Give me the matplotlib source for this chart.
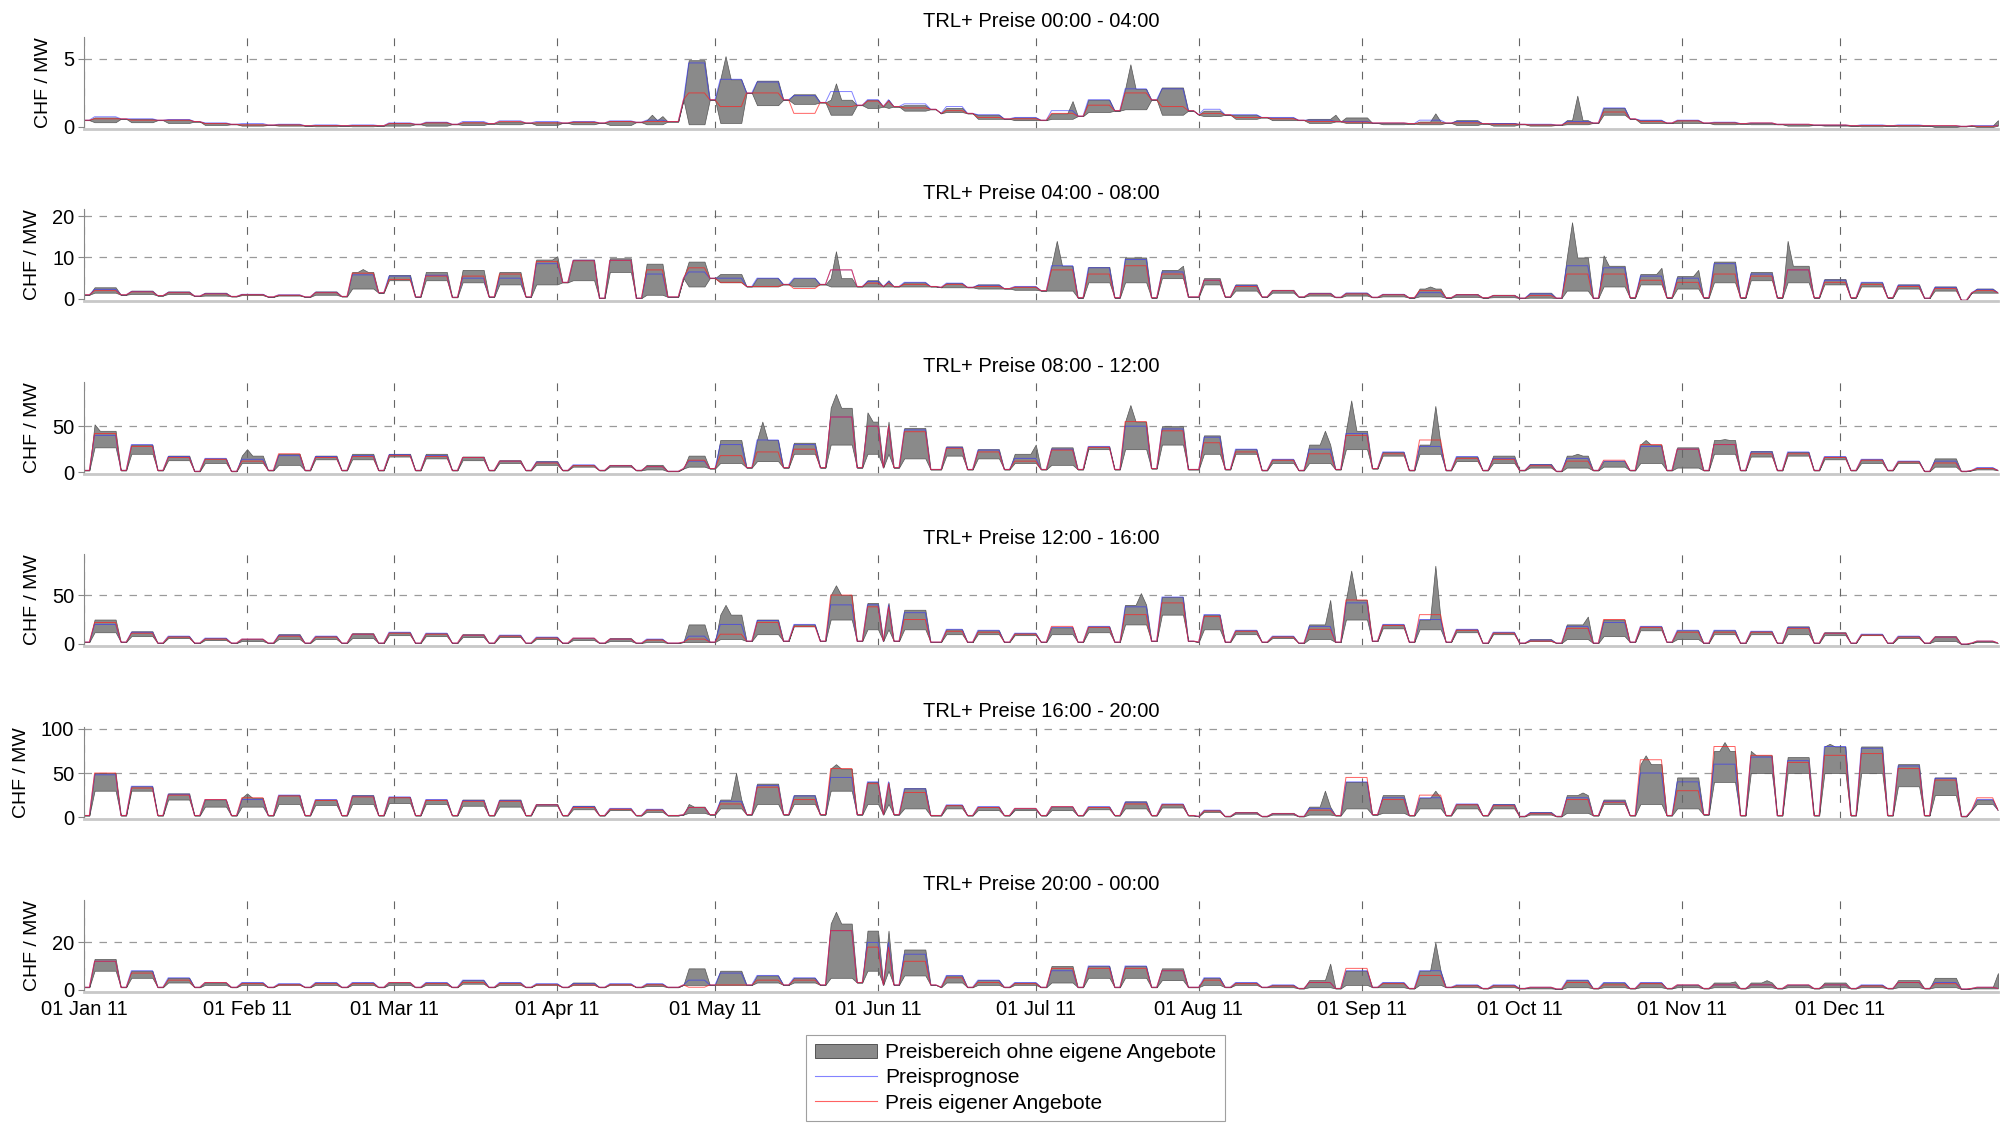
import numpy as np
import pandas as pd
import matplotlib
matplotlib.use('Agg')
import matplotlib.pyplot as plt
import matplotlib.dates as mdates
from matplotlib.patches import Patch
from matplotlib.lines import Line2D

plt.rcParams['font.family'] = ['Liberation Sans', 'DejaVu Sans']

days = pd.date_range('2011-01-01', '2011-12-31', freq='D')
holidays = ['2011-04-22', '2011-04-25', '2011-06-02', '2011-06-13', '2011-08-01', '2011-12-26']

# weekly readings (index 0 = Jan 1-2, 1 = week of Jan 3, ... 52 = week of Dec 26)
# hi/lo = price range Mon-Fri, fc = forecast, own = own bids, we = weekend level
# spk = single day peaks of the price range

# 00:00 - 04:00
hi_00 = [.5, .7, .6, .55, .3, .2, .2, .15, .15, .3,
         .35, .35, .4, .35, .4, .45, .5, 4.9, 3.5, 3.4,
         2.4, 2.0, 2.0, 1.6, 1.4, .9, .7, 1.0, 2.0, 2.8,
         2.9, 1.2, .9, .7, .6, .7, .3, .4, .5, .3,
         .2, .5, 1.4, .5, .5, .35, .3, .2, .15, .15,
         .15, .1, .1]
lo_00 = [.3, .35, .35, .3, .15, .1, .1, .05, .05, .1,
         .1, .15, .2, .15, .2, .15, .2, .2, .3, 1.6,
         1.7, .9, 1.4, 1.2, 1.1, .6, .5, .6, 1.1, 1.3,
         .9, .8, .6, .5, .3, .3, .2, .2, .15, .1,
         .1, .2, .9, .3, .3, .2, .2, .1, .1, .05,
         .05, 0, 0]
fc_00 = [.5, .75, .6, .55, .3, .25, .2, .15, .15, .3,
         .35, .4, .45, .4, .4, .45, .5, 4.7, 3.5, 3.3,
         2.3, 2.6, 2.0, 1.7, 1.5, .9, .7, 1.2, 2.0, 2.8,
         2.8, 1.3, .9, .7, .5, .4, .3, .5, .4, .25,
         .2, .4, 1.4, .5, .5, .35, .3, .2, .15, .15,
         .15, .1, .1]
own_00 = [.5, .6, .5, .5, .25, .15, .15, .1, .1, .25,
          .3, .3, .4, .3, .35, .4, .4, 2.5, 1.5, 2.5,
          1.0, 1.5, 1.9, 1.4, 1.2, .7, .6, 1.0, 1.6, 2.5,
          1.5, 1.0, .7, .6, .4, .35, .3, .3, .3, .2,
          .15, .3, 1.1, .4, .45, .3, .3, .2, .15, .1,
          .1, .1, .05]
we_00 = [.5, .6, .5, .4, .2, .15, .1, .1, .1, .2,
         .2, .25, .3, .3, .3, .35, .4, 2.0, 2.5, 2.0,
         1.8, 1.6, 1.5, 1.3, 1.0, .6, .5, .8, 1.2, 2.0,
         1.2, .9, .7, .5, .4, .3, .25, .3, .25, .2,
         .15, .3, .6, .3, .3, .25, .2, .15, .1, .1,
         .1, .05, .1]
spk_00 = {'2011-04-19': .9, '2011-04-21': .8, '2011-05-03': 5.2, '2011-05-24': 3.2,
          '2011-07-08': 1.9, '2011-07-19': 4.6, '2011-08-27': .9, '2011-09-15': 1.0,
          '2011-10-12': 2.3, '2011-12-31': .5}

# 04:00 - 08:00
hi_04 = [1.0, 2.8, 2.0, 1.8, 1.5, 1.2, 1.0, 1.8, 6.5, 5.8,
         6.5, 7.0, 6.5, 9.5, 9.5, 9.8, 8.5, 9.0, 6.0, 5.0,
         5.0, 5.0, 4.5, 4.0, 3.8, 3.5, 3.0, 8.0, 7.7, 10.0,
         7.0, 5.0, 3.5, 2.2, 1.5, 1.5, 1.2, 2.5, 1.2, 1.0,
         1.5, 10.0, 8.0, 6.0, 5.5, 9.0, 6.5, 8.0, 4.8, 4.0,
         3.5, 3.0, 2.5]
lo_04 = [1.0, 1.5, 1.2, 1.2, .8, .9, .8, 1.0, 2.5, 4.5,
         4.5, 4.0, 3.5, 3.5, 4.5, 6.5, 1.0, 3.0, 4.0, 3.0,
         3.0, 3.0, 3.0, 3.0, 2.8, 2.5, 2.2, 2.0, 4.0, 4.0,
         5.0, 3.5, 2.0, 1.5, .8, .8, .6, .6, .5, .4,
         .3, 2.0, 3.0, 3.5, 2.5, 4.0, 4.5, 4.0, 3.5, 3.0,
         2.5, 2.0, 1.5]
fc_04 = [1.0, 2.3, 1.8, 1.6, 1.3, 1.1, 1.0, 1.6, 5.8, 5.5,
         5.7, 5.0, 5.0, 8.5, 9.3, 9.3, 6.0, 6.5, 5.0, 5.0,
         5.0, 7.0, 4.2, 4.0, 3.8, 3.3, 3.0, 8.0, 7.5, 9.5,
         6.5, 4.5, 3.2, 2.0, 1.3, 1.4, 1.1, 1.5, 1.0, .8,
         1.2, 8.0, 7.5, 5.5, 5.0, 8.5, 6.0, 7.0, 4.5, 4.0,
         3.3, 2.8, 2.3]
own_04 = [1.0, 2.0, 1.7, 1.5, 1.2, 1.0, .9, 1.5, 6.2, 4.7,
          5.5, 5.5, 6.0, 9.0, 9.2, 9.3, 7.0, 7.5, 4.0, 3.0,
          2.5, 7.0, 3.8, 3.5, 3.5, 3.0, 2.8, 7.0, 6.0, 8.0,
          6.0, 4.5, 3.0, 2.0, 1.2, 1.2, 1.0, 2.0, 1.0, .8,
          .8, 6.0, 6.0, 4.5, 4.0, 6.0, 5.5, 7.0, 4.0, 3.5,
          3.0, 2.5, 2.0]
we_04 = [1.0, 1.0, .8, .7, .6, .5, .5, .6, 1.5, .5,
         .4, .5, .5, 4.0, .2, .2, .5, 5.0, 3.0, 3.5,
         3.5, 3.0, 3.0, 3.0, 2.8, 2.5, 2.0, .3, .3, .3,
         .5, .5, .5, .5, .4, .4, .3, .3, .3, .2,
         .2, .2, .3, .3, .3, .3, .3, .3, .3, .3,
         .2, -.3, 1.5]
spk_04 = {'2011-02-23': 7.2, '2011-04-01': 10.3, '2011-05-24': 11.5, '2011-07-05': 14.0,
          '2011-07-29': 8.0, '2011-09-14': 3.0, '2011-10-11': 18.5, '2011-10-17': 10.5,
          '2011-10-28': 7.5, '2011-11-04': 7.0, '2011-11-21': 14.0}

# 08:00 - 12:00
hi_08 = [2, 45, 30, 18, 15, 18, 20, 18, 20, 20,
         20, 17, 13, 12, 8, 8, 8, 18, 35, 35,
         32, 70, 55, 48, 28, 25, 20, 27, 28, 55,
         50, 40, 25, 14, 30, 45, 22, 30, 17, 18,
         9, 18, 12, 30, 27, 35, 23, 22, 17, 14,
         12, 15, 5]
lo_08 = [2, 27, 20, 13, 10, 10, 8, 14, 14, 17,
         15, 13, 10, 8, 6, 6, 3, 6, 10, 12,
         20, 30, 20, 15, 18, 15, 10, 8, 25, 25,
         30, 20, 20, 10, 10, 25, 18, 20, 12, 10,
         5, 5, 6, 10, 5, 20, 17, 18, 14, 10,
         10, 6, 3]
fc_08 = [2, 40, 30, 17, 15, 14, 18, 17, 18, 19,
         18, 16, 12, 11, 8, 7, 6, 12, 30, 35,
         30, 60, 50, 46, 27, 24, 15, 25, 28, 50,
         47, 38, 25, 14, 25, 42, 22, 28, 17, 15,
         8, 15, 12, 28, 25, 30, 22, 22, 17, 14,
         12, 12, 5]
own_08 = [2, 42, 28, 16, 14, 12, 20, 16, 17, 18,
          17, 16, 12, 10, 7, 7, 6, 13, 18, 22,
          25, 60, 50, 44, 26, 22, 12, 24, 27, 55,
          45, 32, 22, 13, 20, 40, 20, 35, 15, 14,
          7, 12, 13, 30, 25, 30, 20, 20, 16, 13,
          11, 10, 4]
we_08 = [2, 2, 2, 1, 1, 2, 2, 2, 2, 2,
         2, 2, 2, 2, 2, 2, 1, 4, 5, 5,
         5, 5, 5, 3, 3, 3, 3, 3, 3, 4,
         3, 3, 2, 2, 3, 4, 2, 2, 2, 2,
         1, 2, 2, 2, 2, 2, 2, 2, 2, 2,
         1, 1, 2]
spk_08 = {'2011-01-03': 52, '2011-02-01': 25, '2011-05-10': 55, '2011-05-24': 85,
          '2011-05-30': 65, '2011-07-01': 30, '2011-07-19': 73, '2011-08-25': 45,
          '2011-08-30': 78, '2011-09-15': 72, '2011-10-12': 20, '2011-10-25': 35,
          '2011-11-09': 36}

# 12:00 - 16:00
hi_12 = [2, 25, 13, 8, 6, 5, 10, 8, 11, 12,
         11, 10, 9, 7, 6, 6, 5, 20, 30, 25,
         20, 50, 42, 35, 15, 14, 11, 17, 18, 40,
         48, 30, 14, 8, 20, 45, 20, 25, 15, 12,
         5, 20, 25, 18, 14, 14, 13, 18, 12, 10,
         8, 8, 3]
lo_12 = [2, 12, 8, 6, 4, 3, 5, 5, 6, 9,
         8, 7, 7, 5, 4, 3, 2, 2, 5, 10,
         18, 25, 15, 15, 10, 10, 9, 10, 12, 20,
         30, 15, 10, 6, 5, 25, 16, 15, 12, 10,
         3, 5, 8, 14, 5, 10, 10, 10, 9, 9,
         6, 3, 2]
fc_12 = [2, 20, 12, 8, 6, 5, 9, 8, 10, 12,
         11, 9, 9, 7, 6, 5, 5, 8, 20, 24,
         20, 40, 40, 32, 15, 14, 11, 17, 18, 38,
         48, 30, 14, 8, 18, 42, 20, 25, 15, 12,
         4, 18, 22, 18, 14, 14, 13, 17, 11, 10,
         8, 7, 3]
own_12 = [2, 22, 11, 7, 5, 5, 8, 7, 10, 11,
          10, 9, 8, 6, 6, 5, 4, 5, 10, 22,
          18, 50, 38, 25, 13, 12, 10, 18, 17, 30,
          42, 28, 13, 7, 15, 45, 19, 30, 14, 11,
          3, 16, 25, 17, 12, 12, 12, 16, 11, 9,
          7, 7, 3]
we_12 = [2, 2, 1, 1, 1, 1, 1, 1, 1, 1,
         1, 1, 1, 1, 1, 1, 1, 2, 3, 3,
         3, 3, 3, 2, 2, 2, 2, 2, 2, 3,
         3, 2, 2, 1, 2, 3, 2, 2, 1, 1,
         1, 1, 2, 2, 1, 1, 1, 1, 1, 1,
         1, 0, 1]
spk_12 = {'2011-05-03': 40, '2011-05-24': 60, '2011-07-21': 52, '2011-08-26': 45,
          '2011-08-30': 75, '2011-09-15': 80, '2011-10-14': 28}

# 16:00 - 20:00
hi_16 = [2, 50, 35, 27, 20, 22, 25, 20, 25, 23,
         20, 20, 20, 15, 13, 10, 9, 12, 20, 38,
         25, 55, 40, 33, 14, 12, 10, 12, 12, 18,
         15, 8, 6, 5, 12, 40, 25, 22, 15, 15,
         6, 25, 20, 60, 45, 75, 70, 68, 80, 80,
         60, 45, 20]
lo_16 = [2, 30, 30, 20, 12, 12, 15, 14, 15, 16,
         15, 13, 12, 13, 9, 8, 6, 5, 10, 15,
         15, 30, 15, 10, 10, 8, 8, 8, 9, 10,
         11, 6, 4, 3, 3, 10, 5, 10, 10, 10,
         3, 5, 15, 15, 10, 40, 50, 50, 50, 50,
         35, 25, 15]
fc_16 = [2, 48, 35, 26, 20, 20, 25, 20, 24, 23,
         20, 19, 19, 14, 12, 10, 9, 11, 18, 36,
         24, 45, 40, 32, 14, 12, 10, 12, 12, 17,
         15, 8, 5, 4, 10, 40, 22, 22, 15, 14,
         5, 22, 18, 50, 40, 60, 68, 64, 80, 78,
         58, 44, 20]
own_16 = [2, 50, 33, 25, 20, 22, 24, 19, 23, 22,
          19, 18, 18, 14, 11, 9, 8, 11, 15, 34,
          20, 55, 38, 28, 13, 11, 10, 12, 11, 15,
          14, 7, 5, 4, 8, 45, 20, 25, 14, 13,
          4, 20, 17, 65, 30, 80, 70, 62, 70, 72,
          55, 42, 22]
we_16 = [2, 2, 2, 2, 2, 2, 2, 2, 2, 2,
         2, 2, 2, 2, 2, 2, 2, 3, 3, 3,
         3, 3, 3, 2, 2, 2, 2, 2, 2, 2,
         2, 1, 1, 1, 2, 3, 2, 2, 2, 1,
         1, 2, 2, 2, 3, 2, 2, 2, 2, 2,
         2, 1, 8]
spk_16 = {'2011-02-01': 27, '2011-04-26': 15, '2011-05-05': 50, '2011-05-24': 60,
          '2011-08-25': 30, '2011-09-15': 30, '2011-10-13': 28, '2011-10-25': 70,
          '2011-11-09': 85, '2011-11-14': 75, '2011-11-29': 83}

# 20:00 - 00:00
hi_20 = [1, 13, 8, 5, 3, 3, 2.5, 3, 3, 3,
         3, 4, 3, 2.5, 3, 2.5, 2.5, 9, 8, 6,
         5, 28, 25, 17, 6, 4, 3, 10, 10, 10,
         9, 5, 3, 2, 4, 8, 3, 8, 2, 2,
         1, 4, 3, 3, 2, 3, 3, 2, 3, 2,
         4, 5, 1]
lo_20 = [1, 8, 5, 3, 2, 2, 2, 2, 2, 2,
         2, 2.5, 2, 2, 2, 2, 1.5, 2, 2, 3,
         3, 5, 8, 6, 3, 2, 2, 3, 5, 5,
         4, 2, 2, 1, 1, 2, 1, 2, 1, 1,
         .5, 1, 1, 1, 1, 1, 1, 1, 1, 1,
         1, 1, .5]
fc_20 = [1, 12, 8, 5, 3, 3, 2.5, 3, 3, 3,
         3, 4, 3, 2.5, 2.5, 2.5, 2.5, 4, 7, 6,
         5, 25, 20, 15, 6, 4, 3, 8, 10, 10,
         8, 5, 3, 2, 3, 8, 3, 8, 2, 2,
         1, 4, 3, 3, 2, 2, 2, 2, 2, 2,
         3, 3, 1]
own_20 = [1, 12, 7, 4, 3, 2.5, 2, 2.5, 2.5, 3,
          2.5, 3, 2.5, 2, 2, 2, 2, 1, 2, 4,
          4, 25, 18, 12, 5, 3, 2.5, 9, 9, 9,
          8, 4, 2.5, 1.5, 3, 9, 2.5, 6, 1.5, 1.5,
          1, 3, 2, 2.5, 2, 2, 2, 2, 2, 1.5,
          3, 2.5, 1]
we_20 = [1, 1, 1, 1, 1, 1, 1, 1, 1, 1,
         1, 1, 1, 1, 1, 1, 1, 2, 2, 2,
         2, 3, 2, 2, 1, 1, 1, 1, 1, 1,
         1, 1, 1, .5, .5, 1, .5, 1, .5, .5,
         .3, .5, .5, .5, .5, .5, .5, .5, .5, .5,
         .5, .3, .5]
spk_20 = {'2011-05-24': 33, '2011-08-26': 11, '2011-09-15': 20, '2011-11-11': 3.5,
          '2011-11-17': 4, '2011-12-31': 7}

titles = ['TRL+ Preise 00:00 - 04:00', 'TRL+ Preise 04:00 - 08:00', 'TRL+ Preise 08:00 - 12:00',
          'TRL+ Preise 12:00 - 16:00', 'TRL+ Preise 16:00 - 20:00', 'TRL+ Preise 20:00 - 00:00']
yticks = [[0, 5], [0, 10, 20], [0, 50], [0, 50], [0, 50, 100], [0, 20]]
ylims = [(-0.15, 6.6), (-0.5, 21.7), (-2, 98), (-2, 92), (-2, 102), (-1, 38)]

panels = [(hi_00, lo_00, fc_00, own_00, we_00, spk_00),
          (hi_04, lo_04, fc_04, own_04, we_04, spk_04),
          (hi_08, lo_08, fc_08, own_08, we_08, spk_08),
          (hi_12, lo_12, fc_12, own_12, we_12, spk_12),
          (hi_16, lo_16, fc_16, own_16, we_16, spk_16),
          (hi_20, lo_20, fc_20, own_20, we_20, spk_20)]

week = (days.dayofyear.values - 3) // 7 + 1
off = (days.dayofweek.values >= 5) | days.isin(pd.to_datetime(holidays))


def daily(weekly, we):
    return np.where(off, np.asarray(we, float)[week], np.asarray(weekly, float)[week])


fig = plt.figure(figsize=(20.11, 11.23), dpi=100)
bottoms = [0.8851, 0.7320, 0.5779, 0.4248, 0.2707, 0.1167]

for i, (hi, lo, fc, own, we, spk) in enumerate(panels):
    ax = fig.add_axes([0.0418, bottoms[i], 0.9517, 0.0819])
    top = daily(hi, we)
    bot = daily(lo, we)
    for d, v in spk.items():
        k = (pd.Timestamp(d) - days[0]).days
        top[k] = max(top[k], v)
    ax.fill_between(days, bot, top, facecolor='#8a8a8a', edgecolor='#555555', lw=0.5)
    ax.plot(days, daily(fc, we), color='#3030ff', lw=0.7, alpha=0.6)
    ax.plot(days, daily(own, we), color='#ff2020', lw=0.7, alpha=0.7)

    ax.set_xlim(days[0], days[-1])
    ax.set_ylim(*ylims[i])
    ax.set_yticks(yticks[i])
    ax.xaxis.set_major_locator(mdates.MonthLocator(bymonthday=1))
    ax.xaxis.set_major_formatter(mdates.DateFormatter('%d %b %y'))
    ax.grid(axis='x', color='#666666', ls=(0, (7, 8)), lw=0.8)
    for t in yticks[i][1:]:
        ax.axhline(t, color='#9a9a9a', ls=(0, (6, 6)), lw=0.9, zorder=0.5)
    for s in ['top', 'right']:
        ax.spines[s].set_visible(False)
    ax.spines['left'].set_color('#888888')
    ax.spines['left'].set_linewidth(0.8)
    ax.spines['bottom'].set_color('#c8c8c8')
    ax.spines['bottom'].set_linewidth(2)
    ax.tick_params(axis='y', labelsize=14.5, length=4, width=0.8, color='#888888', pad=3)
    ax.tick_params(axis='x', labelsize=14.5, length=0, pad=6)
    if i < 5:
        ax.tick_params(axis='x', labelbottom=False)
    ax.set_title(titles[i], fontsize=14.5, pad=7)
    ax.set_ylabel('CHF / MW', fontsize=14, labelpad=8)

handles = [Patch(facecolor='#8a8a8a', edgecolor='#555555', lw=0.7),
           Line2D([], [], color='#3030ff', lw=0.8, alpha=0.6),
           Line2D([], [], color='#ff2020', lw=0.8, alpha=0.7)]
labels = ['Preisbereich ohne eigene Angebote', 'Preisprognose', 'Preis eigener Angebote']
leg = fig.legend(handles, labels, loc='lower center', bbox_to_anchor=(0.505, 0.0),
                 fontsize=15, frameon=True, fancybox=False, handlelength=3.0,
                 handletextpad=0.4, labelspacing=0.3, borderpad=0.4, borderaxespad=0.1)
leg.get_frame().set_edgecolor('#888888')
leg.get_frame().set_linewidth(0.8)

fig.savefig('out.png', dpi=100)
